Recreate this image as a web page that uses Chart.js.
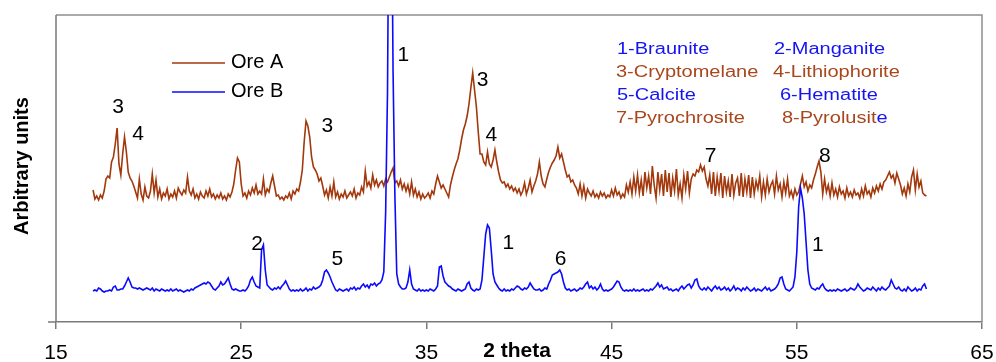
<!DOCTYPE html>
<html>
<head>
<meta charset="utf-8">
<title>XRD patterns</title>
<script src="https://cdn.jsdelivr.net/npm/chart.js@4/dist/chart.umd.min.js"></script>
<style>
  html, body { margin: 0; padding: 0; background: #fff; }
  #wrap { width: 996px; height: 362px; }
</style>
</head>
<body>
<div id="wrap"><canvas id="xrd" width="996" height="362"></canvas></div>
<script>
// 2-theta sampling of both scans
const thetaStart = 17;
const thetaStep = 0.1;

// Ore A counts, one row per degree (x.0 .. x.9)
const oreA = [
  132, 123, 126, 122, 127, 124, 131, 143, 146, 144, // 17
  160, 165, 178, 194, 158, 147, 168, 185, 170, 150, // 18
  144, 141, 136, 130, 124, 143, 128, 122, 135, 126, // 19
  124, 131, 148, 129, 142, 125, 133, 123, 129, 126, // 20
  133, 123, 128, 125, 131, 124, 134, 130, 127, 132, // 21
  129, 145, 131, 127, 133, 124, 128, 123, 130, 126, // 22
  124, 131, 126, 133, 125, 128, 123, 127, 124, 129, // 23
  123, 126, 122, 128, 125, 130, 138, 152, 164, 160, // 24
  138, 126, 129, 124, 131, 127, 134, 129, 137, 128, // 25
  131, 128, 143, 127, 133, 130, 139, 146, 136, 126, // 26
  127, 123, 125, 122, 126, 124, 129, 123, 131, 128, // 27
  133, 131, 140, 152, 180, 201, 196, 185, 165, 155, // 28
  152, 148, 141, 144, 136, 127, 132, 124, 135, 126, // 29
  140, 125, 130, 123, 128, 125, 131, 124, 127, 130, // 30
  126, 133, 124, 129, 127, 135, 130, 151, 136, 140, // 31
  134, 147, 137, 142, 135, 139, 141, 136, 143, 140, // 32
  145, 150, 154, 139, 141, 136, 142, 133, 138, 131, // 33
  137, 128, 140, 127, 133, 125, 130, 123, 128, 124, // 34
  126, 129, 124, 131, 128, 138, 146, 140, 134, 137, // 35
  133, 129, 125, 137, 145, 152, 158, 163, 172, 183, // 36
  192, 198, 206, 218, 234, 249, 232, 215, 190, 168, // 37
  168, 160, 157, 170, 158, 155, 162, 172, 160, 150, // 38
  142, 139, 140, 135, 138, 133, 136, 131, 134, 129, // 39
  133, 127, 131, 139, 128, 134, 142, 130, 136, 141, // 40
  148, 160, 146, 138, 135, 143, 150, 155, 159, 162, // 41
  166, 175, 164, 168, 160, 152, 145, 147, 140, 142, // 42
  137, 134, 128, 138, 126, 136, 124, 133, 129, 126, // 43
  131, 125, 128, 124, 130, 126, 129, 124, 127, 125, // 44
  132, 126, 134, 127, 130, 124, 128, 125, 137, 130, // 45
  140, 128, 145, 131, 147, 129, 142, 126, 150, 134, // 46
  146, 128, 156, 137, 124, 150, 132, 148, 126, 152, // 47
  130, 149, 125, 144, 131, 153, 127, 138, 124, 147, // 48
  133, 151, 129, 143, 148, 146, 152, 150, 157, 151, // 49
  155, 143, 136, 147, 128, 150, 126, 145, 131, 149, // 50
  124, 146, 130, 141, 125, 148, 127, 139, 144, 126, // 51
  149, 125, 143, 130, 147, 124, 145, 128, 141, 133, // 52
  146, 125, 140, 127, 143, 130, 137, 141, 128, 146, // 53
  132, 138, 125, 140, 129, 143, 126, 131, 124, 133, // 54
  127, 130, 138, 146, 135, 140, 131, 137, 134, 142, // 55
  148, 155, 161, 150, 128, 143, 130, 137, 126, 139, // 56
  127, 133, 125, 135, 128, 131, 124, 134, 126, 130, // 57
  125, 132, 127, 129, 124, 133, 126, 136, 128, 131, // 58
  125, 134, 129, 136, 131, 138, 133, 140, 142, 146, // 59
  150, 144, 147, 139, 149, 143, 137, 128, 134, 126, // 60
  138, 130, 145, 152, 132, 148, 135, 141, 129, 127, // 61
  126                                               // 62
];

// Ore B counts, same sampling
const oreB = [
  31, 32, 31, 34, 33, 31, 30, 31, 31, 32, // 17
  31, 35, 36, 32, 32, 33, 33, 36, 40, 44, // 18
  40, 35, 34, 34, 33, 34, 33, 32, 33, 34, // 19
  33, 32, 34, 31, 33, 32, 31, 33, 32, 31, // 20
  32, 31, 33, 31, 32, 33, 31, 32, 31, 30, // 21
  31, 32, 31, 33, 32, 34, 35, 36, 37, 38, // 22
  39, 38, 40, 39, 36, 33, 32, 34, 36, 40, // 23
  37, 38, 41, 44, 38, 33, 32, 33, 32, 31, // 24
  31, 32, 31, 33, 36, 42, 45, 40, 36, 35, // 25
  34, 72, 77, 52, 37, 35, 33, 32, 34, 33, // 26
  35, 33, 36, 38, 41, 37, 33, 31, 32, 31, // 27
  32, 31, 33, 31, 32, 34, 31, 33, 32, 35, // 28
  33, 34, 35, 37, 42, 50, 52, 49, 45, 40, // 29
  36, 32, 31, 33, 32, 31, 32, 33, 31, 34, // 30
  33, 35, 32, 34, 33, 36, 38, 35, 37, 34, // 31
  38, 37, 39, 36, 38, 39, 42, 50, 110, 230, // 32
  500, 480, 250, 125, 48, 38, 35, 33, 33, 34, // 33
  40, 52, 38, 33, 32, 31, 33, 31, 32, 31, // 34
  32, 31, 33, 32, 31, 33, 36, 55, 56, 46, // 35
  40, 38, 36, 35, 33, 32, 31, 33, 32, 31, // 36
  32, 33, 38, 40, 34, 32, 31, 33, 32, 33, // 37
  42, 65, 88, 97, 94, 72, 48, 40, 37, 34, // 38
  32, 31, 33, 31, 32, 31, 33, 32, 34, 36, // 39
  35, 33, 32, 34, 33, 35, 39, 36, 33, 32, // 40
  32, 33, 31, 32, 34, 33, 38, 42, 47, 48, // 41
  49, 50, 52, 48, 40, 34, 32, 33, 31, 32, // 42
  33, 31, 32, 34, 33, 35, 38, 40, 34, 36, // 43
  33, 35, 32, 34, 38, 33, 31, 32, 31, 32, // 44
  33, 35, 38, 41, 40, 35, 32, 31, 32, 31, // 45
  32, 31, 33, 31, 32, 31, 32, 33, 31, 32, // 46
  31, 33, 32, 34, 36, 39, 35, 37, 33, 34, // 47
  35, 32, 33, 31, 32, 33, 31, 34, 36, 33, // 48
  35, 37, 38, 34, 37, 42, 43, 36, 33, 32, // 49
  34, 32, 35, 33, 31, 34, 36, 33, 35, 32, // 50
  33, 35, 32, 34, 31, 33, 36, 32, 34, 33, // 51
  31, 34, 32, 35, 33, 31, 32, 34, 31, 33, // 52
  32, 31, 33, 35, 32, 34, 31, 32, 33, 35, // 53
  38, 44, 45, 38, 33, 32, 31, 33, 35, 45, // 54
  70, 115, 134, 124, 108, 80, 52, 38, 34, 33, // 55
  32, 34, 33, 36, 38, 34, 32, 31, 32, 31, // 56
  32, 31, 33, 32, 31, 32, 33, 31, 32, 34, // 57
  33, 32, 34, 38, 35, 33, 31, 32, 34, 33, // 58
  32, 35, 33, 31, 34, 32, 35, 33, 32, 34, // 59
  36, 42, 38, 34, 33, 35, 32, 31, 33, 31, // 60
  35, 33, 31, 32, 34, 31, 33, 32, 36, 38, // 61
  33                                      // 62
];

const xTicks = [15, 25, 35, 45, 55, 65];

// phase numbers written above the reflections: [label, 2theta, height]
const peakLabels = [
  ['3', 18.35, 215], ['4', 19.43, 188], ['3', 29.65, 196],
  ['2', 25.86, 78],  ['5', 30.19, 63],  ['1', 33.76, 267],
  ['3', 38.03, 242], ['4', 38.51, 187], ['1', 39.43, 79],
  ['6', 42.24, 63],  ['7', 50.35, 166], ['8', 56.51, 166],
  ['1', 56.14, 77]
];

const BROWN = '#a2380c';
const BLUE = '#0a0aff';
const TXT_BROWN = '#a8461c';
const TXT_BLUE = '#1414f2';

// phase key, two columns
const phaseKey = [
  { text: '1-Braunite', color: TXT_BLUE, col: 0, row: 0, dx: 1 },
  { text: '2-Manganite', color: TXT_BLUE, col: 1, row: 0, dx: 1 },
  { text: '3-Cryptomelane', color: TXT_BROWN, col: 0, row: 1, dx: 0 },
  { text: '4-Lithiophorite', color: TXT_BROWN, col: 1, row: 1, dx: 0 },
  { text: '5-Calcite', color: TXT_BLUE, col: 0, row: 2, dx: 1 },
  { text: '6-Hematite', color: TXT_BLUE, col: 1, row: 2, dx: 7 },
  { text: '7-Pyrochrosite', color: TXT_BROWN, col: 0, row: 3, dx: 0 },
  { text: '8-Pyrolusit', color: TXT_BROWN, col: 1, row: 3, dx: 9, tail: 'e' }
];

const theta = oreA.map((_, i) => +(thetaStart + i * thetaStep).toFixed(1));
const toPoints = (vals) => vals.map((v, i) => ({ x: theta[i], y: v }));

const FONT = "'Liberation Sans', Arial, sans-serif";

const decorations = {
  id: 'decorations',
  beforeDraw(chart) {
    const { ctx, width, height } = chart;
    ctx.save();
    ctx.fillStyle = '#fff';
    ctx.fillRect(0, 0, width, height);
    ctx.restore();
  },
  beforeDatasetsDraw(chart) {
    const { ctx, chartArea: a } = chart;
    ctx.save();
    // plot frame (top / right)
    ctx.strokeStyle = '#8f8f8f';
    ctx.lineWidth = 1.5;
    ctx.beginPath();
    ctx.moveTo(a.left, a.top);
    ctx.lineTo(a.right, a.top);
    ctx.lineTo(a.right, a.bottom);
    ctx.stroke();
    // value axis with its single tick at the bottom
    ctx.strokeStyle = '#7a7a7a';
    ctx.beginPath();
    ctx.moveTo(a.left, a.top);
    ctx.lineTo(a.left, a.bottom);
    ctx.moveTo(a.left - 8, a.bottom);
    ctx.lineTo(a.left, a.bottom);
    ctx.stroke();
    ctx.restore();
  },
  afterDatasetsDraw(chart) {
    const { ctx, scales: { x, y } } = chart;
    ctx.save();

    // peak numbers
    ctx.fillStyle = '#000';
    ctx.font = `21px ${FONT}`;
    ctx.textAlign = 'center';
    ctx.textBaseline = 'middle';
    peakLabels.forEach(([lbl, t, v]) => {
      ctx.fillText(lbl, x.getPixelForValue(t), y.getPixelForValue(v));
    });

    // series legend
    ctx.lineWidth = 1.5;
    [['Ore A', BROWN, 63], ['Ore B', BLUE, 92]].forEach(([name, col, ly]) => {
      ctx.strokeStyle = col;
      ctx.beginPath();
      ctx.moveTo(172, ly);
      ctx.lineTo(225, ly);
      ctx.stroke();
      ctx.fillStyle = '#000';
      ctx.font = `20px ${FONT}`;
      ctx.textAlign = 'left';
      ctx.fillText(name, 231, ly - 1);
    });

    // phase key (wide lettering)
    ctx.font = `16px ${FONT}`;
    ctx.textAlign = 'left';
    const colX = [616, 773];
    phaseKey.forEach((k) => {
      ctx.save();
      ctx.translate(colX[k.col] + k.dx, 50 + k.row * 23);
      ctx.scale(1.25, 1);
      ctx.fillStyle = k.color;
      ctx.fillText(k.text, 0, 0);
      if (k.tail) {
        ctx.fillStyle = TXT_BLUE;
        ctx.fillText(k.tail, ctx.measureText(k.text).width, 0);
      }
      ctx.restore();
    });

    // axis titles
    ctx.fillStyle = '#000';
    ctx.font = `bold 21px ${FONT}`;
    ctx.textAlign = 'center';
    ctx.fillText('2 theta', 517, 351);
    ctx.save();
    ctx.translate(22, 166);
    ctx.rotate(-Math.PI / 2);
    ctx.font = `bold 20px ${FONT}`;
    ctx.fillText('Arbitrary units', 0, 0);
    ctx.restore();

    ctx.restore();
  }
};

new Chart(document.getElementById('xrd'), {
  type: 'line',
  data: {
    datasets: [
      {
        label: 'Ore A',
        data: toPoints(oreA),
        borderColor: BROWN,
        borderWidth: 1.6,
        pointRadius: 0,
        tension: 0,
        order: 1
      },
      {
        label: 'Ore B',
        data: toPoints(oreB),
        borderColor: BLUE,
        borderWidth: 1.6,
        pointRadius: 0,
        tension: 0,
        order: 0
      }
    ]
  },
  options: {
    responsive: false,
    animation: false,
    events: [],
    layout: { padding: { left: 56, right: 14, top: 15, bottom: 0 } },
    plugins: {
      legend: { display: false },
      tooltip: { enabled: false }
    },
    scales: {
      x: {
        type: 'linear',
        min: 15,
        max: 65,
        afterBuildTicks: (s) => { s.ticks = xTicks.map((v) => ({ value: v })); },
        afterFit: (s) => {
          s.height = 40;
          s.paddingLeft = 0;
          s.paddingRight = 0;
        },
        grid: {
          drawOnChartArea: false,
          drawTicks: true,
          tickLength: 7,
          color: '#7a7a7a',
          lineWidth: 1.5
        },
        border: { color: '#7a7a7a', width: 1.5 },
        ticks: {
          color: '#000',
          padding: 12,
          maxRotation: 0,
          font: { family: FONT, size: 21 }
        }
      },
      y: {
        display: false,
        min: 0,
        max: 307
      }
    }
  },
  plugins: [decorations]
});
</script>
</body>
</html>
